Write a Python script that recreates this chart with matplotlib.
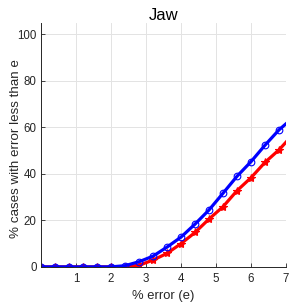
import numpy as np
import matplotlib
matplotlib.use('Agg')
import matplotlib.pyplot as plt

plt.rcParams['font.family'] = ['Liberation Sans', 'DejaVu Sans']

# error thresholds (%), markers every 0.4, line ends at 7
err = [0, 0.4, 0.8, 1.2, 1.6, 2.0, 2.4, 2.8, 3.2, 3.6, 4.0, 4.4, 4.8, 5.2, 5.6, 6.0, 6.4, 6.8, 7.0]
blue_pct = [0, 0, 0, 0, 0, 0, 0.5, 2.2, 4.6, 8.5, 12.8, 18.4, 24.5, 31.7, 39.0, 45.3, 52.4, 59.0, 61.6]
red_pct = [0, 0, 0, 0, 0, 0, 0, 0.7, 2.9, 5.8, 10.0, 14.8, 20.6, 25.9, 32.8, 38.4, 45.0, 50.4, 53.7]

fig = plt.figure(figsize=(3.05, 3.05), dpi=100)
ax = fig.add_axes([0.134, 0.125, 0.804, 0.80])

marks = list(range(len(err) - 1))
ax.plot(err, red_pct, color='#ff0000', lw=2.3, marker='*', ms=6, mew=0.8, markevery=marks)
ax.plot(err, blue_pct, color='#0000ff', lw=2.3, marker='o', ms=4.8, mfc='none', mew=0.8, markevery=marks)

ax.set_xlim(0, 7)
ax.set_ylim(0, 105)
ax.set_xticks([1, 2, 3, 4, 5, 6, 7])
ax.set_yticks([0, 20, 40, 60, 80, 100])
ax.grid(True, color='#e3e3e3', lw=0.7)
ax.set_axisbelow(True)
for s in ['top', 'right']:
    ax.spines[s].set_visible(False)
for s in ['left', 'bottom']:
    ax.spines[s].set_color('#262626')
    ax.spines[s].set_linewidth(0.7)
ax.tick_params(axis='y', direction='in', length=3, width=0.6, labelsize=8.3, colors='#262626', pad=3)
ax.tick_params(axis='x', direction='in', length=3, width=0.6, labelsize=8.3, colors='#262626', pad=4.5)

ax.set_title('Jaw', fontsize=12, pad=0.5)
ax.set_xlabel('% error (e)', fontsize=9.4, color='#262626')
ax.set_ylabel('% cases with error less than e', fontsize=9.6, color='#262626')
ax.yaxis.set_label_coords(-0.075, 0.484)
ax.xaxis.set_label_coords(0.5, -0.094)

fig.savefig('out.png', dpi=100)
